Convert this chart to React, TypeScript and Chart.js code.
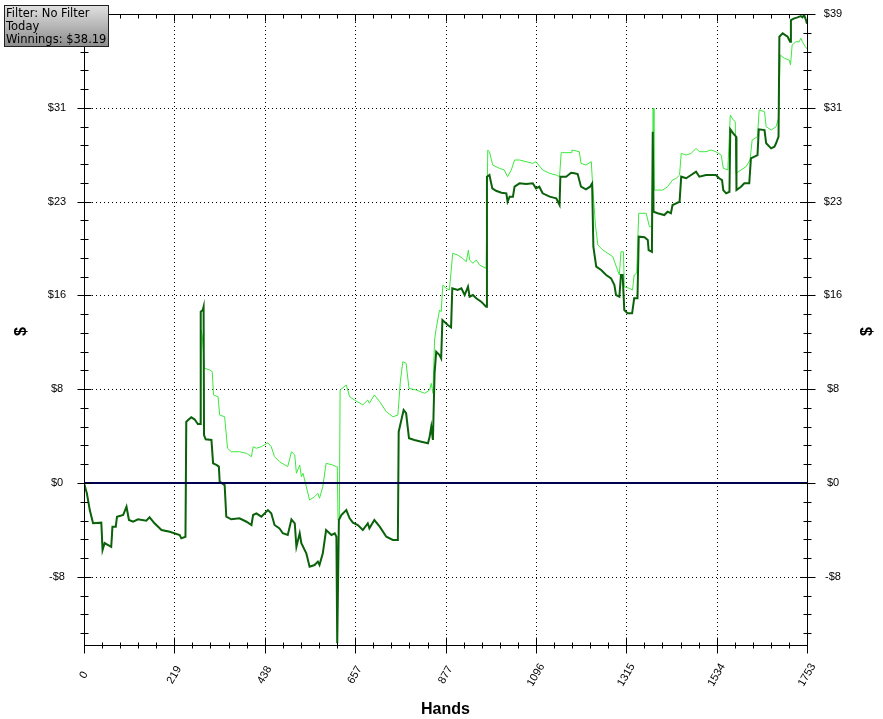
import React, { useEffect, useRef } from 'react';
import { Chart, registerables } from 'chart.js';

Chart.register(...registerables);

const xMajorTicks = [0, 219, 438, 657, 877, 1096, 1315, 1534, 1753];
const xTickLabels = ['0', '219', '438', '657', '877', '1096', '1315', '1534', '1753'];
const yMajorTicks = [-7.8, 0, 7.8, 15.6, 23.4, 31.2, 39];
const yTickLabels = ['-$8', '$0', '$8', '$16', '$23', '$31', '$39'];
const yMin = -13.47;
const yMax = 39;
const xTitle = 'Hands';
const yTitle = '$';
const infoLines = ['Filter: No Filter', 'Today', 'Winnings: $38.19'];

// [hand, $]
const darkSeries: [number, number][] = [
  [0, 0], [7, -0.86], [14, -2.25], [22, -3.35], [42, -3.3], [45, -5.57], [50, -4.99], [66, -5.3],
  [69, -3.63], [77, -3.63], [80, -2.8], [95, -2.66], [103, -1.97], [109, -3.08], [119, -3.22],
  [131, -3.02], [151, -3.13], [159, -2.85], [171, -3.35], [188, -3.91], [208, -4.05], [232, -4.32],
  [236, -4.6], [246, -4.47], [248, 5.1], [260, 5.46], [268, 5.3], [276, 4.91], [282, 4.91],
  [283, 14.24], [288, 14.39], [290, 14.66], [291, 3.99], [295, 3.63], [309, 3.58], [313, 1.64],
  [321, 1.5], [327, 1.36], [329, 0.11], [341, -0.17], [345, -2.8], [357, -3.02], [377, -2.94],
  [394, -3.22], [406, -3.49], [410, -2.66], [418, -2.52], [430, -2.8], [446, -2.25], [454, -2.52],
  [462, -3.49], [474, -3.77], [482, -4.18], [494, -4.32], [503, -3.02], [511, -3.35], [515, -5.3],
  [523, -4.18], [527, -5.01], [539, -5.85], [547, -6.96], [559, -6.82], [567, -6.54], [571, -6.82],
  [579, -5.85], [587, -3.91], [600, -4.32], [608, -4.18], [612, -4.47], [614, -13.33], [618, -3.08],
  [624, -2.66], [636, -2.25], [644, -2.94], [652, -3.3], [664, -3.49], [676, -3.91], [688, -3.35],
  [692, -3.77], [704, -3.08], [717, -3.63], [733, -4.47], [749, -4.74], [761, -4.74], [763, 4.27],
  [775, 6.07], [781, 5.8], [788, 3.72], [801, 3.58], [818, 3.43], [834, 3.3], [838, 3.85],
  [842, 4.68], [846, 3.58], [850, 9.12], [854, 10.92], [862, 10.64], [866, 10.37], [869, 13.55],
  [882, 13.14], [890, 12.95], [893, 16.19], [906, 16.05], [915, 16.19], [923, 15.63], [931, 16.32],
  [935, 15.49], [943, 15.63], [951, 15.36], [963, 15.08], [975, 14.66], [977, 25.47], [983, 25.61],
  [990, 24.5], [999, 24.3], [1012, 24.14], [1024, 24.09], [1027, 23.39], [1032, 23.81], [1040, 23.81],
  [1044, 24.64], [1056, 24.92], [1072, 24.86], [1088, 24.92], [1096, 24.5], [1104, 24.64],
  [1112, 24.09], [1129, 23.81], [1145, 23.67], [1153, 23.12], [1155, 25.47], [1169, 25.47],
  [1181, 25.8], [1189, 25.75], [1197, 25.69], [1205, 24.64], [1217, 24.42], [1227, 24.64],
  [1232, 24.92], [1235, 19.65], [1242, 17.99], [1254, 17.71], [1266, 17.3], [1278, 17.02],
  [1286, 16.46], [1290, 15.63], [1298, 15.49], [1302, 17.3], [1306, 17.3], [1310, 14.39],
  [1318, 14.11], [1329, 14.11], [1334, 15.36], [1342, 15.36], [1345, 20.48], [1359, 20.43],
  [1367, 20.21], [1369, 19.37], [1377, 19.23], [1379, 29.21], [1381, 22.56], [1391, 22.43],
  [1407, 22.28], [1415, 22.56], [1423, 22.43], [1427, 23.12], [1436, 23.26], [1444, 23.39],
  [1448, 25.47], [1460, 25.34], [1472, 25.61], [1484, 25.89], [1492, 25.47], [1508, 25.61],
  [1520, 25.61], [1532, 25.61], [1540, 25.34], [1547, 25.19], [1550, 24.36], [1557, 24.09],
  [1565, 24.22], [1567, 29.41], [1574, 29.08], [1581, 28.8], [1582, 24.36], [1593, 24.64],
  [1601, 24.92], [1613, 24.92], [1617, 27.0], [1633, 27.27], [1636, 29.41], [1650, 29.35],
  [1654, 28.25], [1666, 27.83], [1674, 27.96], [1678, 28.25], [1684, 28.8], [1686, 37.11],
  [1694, 37.39], [1706, 37.11], [1712, 36.69], [1714, 38.5], [1722, 38.64], [1730, 38.72],
  [1738, 38.83], [1742, 38.72], [1746, 38.92], [1751, 38.44], [1753, 38.19],
];

const lightSeries: [number, number][] = [
  [0, 0], [7, -0.86], [14, -2.25], [22, -3.35], [42, -3.3], [45, -5.57], [50, -4.99], [66, -5.3],
  [69, -3.63], [77, -3.63], [80, -2.8], [95, -2.66], [103, -1.97], [109, -3.08], [119, -3.22],
  [131, -3.02], [151, -3.13], [159, -2.85], [171, -3.35], [188, -3.91], [208, -4.05], [232, -4.32],
  [236, -4.6], [246, -4.47], [248, 5.1], [260, 5.46], [268, 5.3], [276, 4.91], [282, 4.91],
  [284, 12.72], [287, 12.2], [292, 9.54], [305, 9.4], [311, 9.25], [314, 7.32], [325, 7.18],
  [329, 5.65], [341, 5.51], [348, 2.89], [357, 2.6], [377, 2.6], [394, 2.47], [406, 2.19],
  [410, 3.02], [418, 2.89], [430, 3.02], [446, 3.35], [454, 3.02], [462, 2.19], [474, 1.77],
  [494, 1.36], [503, 2.6], [511, 2.33], [515, 0.81], [523, 1.5], [527, 0.52], [531, 0.81],
  [539, -0.31], [547, -1.41], [559, -1.14], [567, -0.86], [571, -1.27], [579, -0.31], [587, 1.64],
  [603, 1.5], [612, 1.36], [614, 1.36], [616, -3.08], [619, -3.08], [621, 7.73], [636, 8.15],
  [644, 7.18], [656, 6.9], [676, 6.49], [688, 6.9], [692, 6.63], [704, 7.32], [717, 6.76],
  [733, 5.93], [749, 5.51], [761, 5.65], [767, 8.42], [773, 10.09], [781, 9.95], [788, 7.87],
  [806, 7.73], [826, 7.46], [838, 7.73], [842, 8.29], [846, 7.46], [850, 11.89], [854, 12.86],
  [862, 14.39], [866, 14.24], [870, 16.46], [878, 16.19], [886, 16.05], [894, 19.1], [906, 18.96],
  [918, 18.68], [927, 18.4], [932, 19.37], [935, 18.54], [943, 18.27], [951, 18.54], [959, 18.13],
  [975, 17.85], [979, 27.69], [983, 27.55], [991, 26.44], [1007, 26.17], [1019, 26.03],
  [1027, 25.47], [1036, 26.03], [1044, 26.86], [1056, 26.86], [1072, 26.72], [1088, 26.58],
  [1096, 26.72], [1112, 26.03], [1129, 25.75], [1145, 25.61], [1153, 25.47], [1157, 27.47],
  [1181, 27.47], [1183, 27.69], [1201, 27.55], [1205, 26.58], [1217, 26.44], [1230, 26.72],
  [1233, 24.92], [1240, 21.45], [1246, 19.79], [1258, 19.37], [1270, 19.1], [1282, 18.82],
  [1298, 17.3], [1302, 19.23], [1308, 19.23], [1310, 16.32], [1322, 16.19], [1330, 16.05],
  [1334, 17.3], [1340, 17.44], [1345, 22.43], [1363, 22.43], [1371, 21.31], [1377, 21.31],
  [1380, 31.16], [1382, 24.36], [1403, 24.36], [1415, 24.64], [1427, 25.19], [1436, 25.34],
  [1444, 25.61], [1448, 27.41], [1460, 27.27], [1472, 27.41], [1484, 27.83], [1492, 27.55],
  [1508, 27.55], [1520, 27.69], [1532, 27.55], [1545, 27.27], [1550, 26.17], [1561, 26.03],
  [1567, 30.6], [1574, 30.19], [1579, 30.04], [1581, 25.75], [1593, 26.03], [1605, 26.3],
  [1615, 26.86], [1620, 28.52], [1633, 28.8], [1637, 31.02], [1650, 30.88], [1654, 29.63],
  [1666, 29.35], [1678, 29.63], [1684, 30.33], [1688, 35.59], [1698, 35.32], [1710, 35.17],
  [1713, 34.76], [1717, 36.42], [1726, 36.69], [1734, 36.69], [1738, 36.98], [1742, 36.69],
  [1749, 36.28], [1753, 36.1],
];

const TICK_FONT = '11px "Liberation Sans", Arial, sans-serif';
const TITLE_FONT = 'bold 16px "Liberation Sans", Arial, sans-serif';
const BOX_FONT = '11.5px "DejaVu Sans", Verdana, sans-serif';

const hp = (v: number) => Math.round(v) + 0.5;

const decorPlugin = {
  id: 'decor',
  beforeDatasetsDraw(chart: any) {
    const { ctx, chartArea: a, scales } = chart;
    const xs = scales.x;
    const ys = scales.y;
    ctx.save();
    ctx.strokeStyle = '#000';
    ctx.lineWidth = 1;
    ctx.setLineDash([1, 3]);
    xMajorTicks.slice(1, -1).forEach((v) => {
      const X = hp(xs.getPixelForValue(v));
      ctx.beginPath();
      ctx.moveTo(X, a.top);
      ctx.lineTo(X, a.bottom);
      ctx.stroke();
    });
    yMajorTicks.forEach((v) => {
      if (v === 0 || v === yMax) return;
      const Y = hp(ys.getPixelForValue(v));
      ctx.beginPath();
      ctx.moveTo(a.left, Y);
      ctx.lineTo(a.right, Y);
      ctx.stroke();
    });
    ctx.restore();
  },
  afterDatasetsDraw(chart: any) {
    const { ctx, chartArea: a, scales } = chart;
    const xs = scales.x;
    const ys = scales.y;
    ctx.save();
    // zero line
    const Y0 = Math.round(ys.getPixelForValue(0));
    ctx.strokeStyle = '#000050';
    ctx.lineWidth = 2;
    ctx.beginPath();
    ctx.moveTo(a.left, Y0);
    ctx.lineTo(a.right, Y0);
    ctx.stroke();

    // frame
    ctx.strokeStyle = '#000';
    ctx.lineWidth = 1;
    const L = hp(a.left), R = hp(a.right), T = hp(a.top), B = hp(a.bottom);
    ctx.beginPath();
    ctx.moveTo(L, T); ctx.lineTo(R, T); ctx.lineTo(R, B); ctx.lineTo(L, B); ctx.closePath();
    ctx.stroke();

    const line = (x1: number, y1: number, x2: number, y2: number) => {
      ctx.beginPath(); ctx.moveTo(x1, y1); ctx.lineTo(x2, y2); ctx.stroke();
    };

    // x ticks
    for (let i = 0; i < xMajorTicks.length; i++) {
      const X = hp(xs.getPixelForValue(xMajorTicks[i]));
      line(X, B - 8, X, B + 8);
      line(X, T, X, T + 7);
      if (i < xMajorTicks.length - 1) {
        for (let j = 1; j < 5; j++) {
          const v = xMajorTicks[i] + ((xMajorTicks[i + 1] - xMajorTicks[i]) * j) / 5;
          const Xm = hp(xs.getPixelForValue(v));
          line(Xm, B - 3, Xm, B + 3);
          line(Xm, T, Xm, T + 4);
        }
      }
    }
    // y ticks
    const step = (yMajorTicks[1] - yMajorTicks[0]) / 5;
    for (let i = 0; i < yMajorTicks.length; i++) {
      const Y = hp(ys.getPixelForValue(yMajorTicks[i]));
      line(L - 7, Y, L + 7, Y);
      line(R - 7, Y, R + 8, Y);
      if (i < yMajorTicks.length - 1) {
        for (let j = 1; j < 5; j++) {
          const Ym = hp(ys.getPixelForValue(yMajorTicks[i] + step * j));
          line(L - 4, Ym, L + 4, Ym);
          line(R - 4, Ym, R + 4, Ym);
        }
      }
    }
    for (let v = yMajorTicks[0] - step; v > yMin; v -= step) {
      const Ym = hp(ys.getPixelForValue(v));
      line(L - 4, Ym, L + 4, Ym);
      line(R - 4, Ym, R + 4, Ym);
    }

    // tick labels
    ctx.fillStyle = '#000';
    ctx.font = TICK_FONT;
    ctx.textAlign = 'center';
    ctx.textBaseline = 'middle';
    yMajorTicks.forEach((v, i) => {
      const Y = ys.getPixelForValue(v);
      ctx.fillText(yTickLabels[i], a.left - 27, Y);
      ctx.fillText(yTickLabels[i], a.right + 26, Y);
    });
    xMajorTicks.forEach((v, i) => {
      const X = xs.getPixelForValue(v);
      ctx.save();
      ctx.translate(X, a.bottom + 30);
      ctx.rotate(-Math.PI / 3);
      ctx.fillText(xTickLabels[i], 0, 0);
      ctx.restore();
    });

    // titles
    ctx.font = TITLE_FONT;
    ctx.fillText(xTitle, (a.left + a.right) / 2, 710);
    const midY = (a.top + a.bottom) / 2 + 2;
    [22, 868].forEach((tx) => {
      ctx.save();
      ctx.translate(tx, midY);
      ctx.rotate(-Math.PI / 2);
      ctx.fillText(yTitle, 0, 0);
      ctx.restore();
    });

    // info box
    const g = ctx.createLinearGradient(0, 5, 0, 47);
    g.addColorStop(0, '#e2e2e2');
    g.addColorStop(1, '#8a8a8a');
    ctx.fillStyle = g;
    ctx.fillRect(4, 5, 105, 42);
    ctx.strokeStyle = '#222';
    ctx.strokeRect(4.5, 5.5, 104, 41);
    ctx.fillStyle = '#000';
    ctx.font = BOX_FONT;
    ctx.textAlign = 'left';
    ctx.textBaseline = 'alphabetic';
    infoLines.forEach((t, i) => ctx.fillText(t, 6, 17 + i * 13));
    ctx.restore();
  },
};

export default function App() {
  const ref = useRef<HTMLCanvasElement>(null);
  useEffect(() => {
    const chart = new Chart(ref.current as HTMLCanvasElement, {
      type: 'line',
      data: {
        datasets: [
          {
            label: 'Winnings',
            data: darkSeries.map(([x, y]) => ({ x, y })),
            borderColor: '#0b620b',
            borderWidth: 2,
            pointRadius: 0,
            tension: 0,
            fill: false,
          },
          {
            label: 'All-in EV',
            data: lightSeries.map(([x, y]) => ({ x, y })),
            borderColor: '#3de83d',
            borderWidth: 1,
            pointRadius: 0,
            tension: 0,
            fill: false,
          },
        ],
      },
      options: {
        animation: false,
        responsive: true,
        maintainAspectRatio: false,
        layout: { padding: { left: 84, right: 76, top: 14, bottom: 74 } },
        scales: {
          x: { type: 'linear', min: 0, max: 1753, display: false },
          y: { type: 'linear', min: yMin, max: yMax, display: false },
        },
        plugins: { legend: { display: false }, tooltip: { enabled: false } },
      },
      plugins: [decorPlugin],
    } as any);
    return () => chart.destroy();
  }, []);
  return (
    <div style={{ position: 'absolute', left: 0, top: 0, width: 883, height: 719 }}>
      <canvas ref={ref} />
    </div>
  );
}
